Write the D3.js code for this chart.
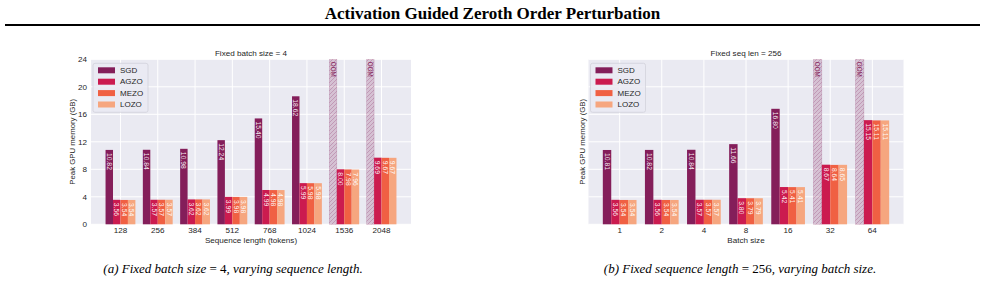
<!DOCTYPE html>
<html>
<head>
<meta charset="utf-8">
<script src="https://cdn.jsdelivr.net/npm/d3@7"></script>
<style>
  body { margin: 0; background: #fff; }
  svg { display: block; }
</style>
</head>
<body>
<div id="chart"></div>
<script>
// methods and their colours
const methods = ["SGD", "AGZO", "MEZO", "LOZO"];
const methodColors = ["#841e5a", "#cb1b4f", "#f06043", "#f6a67f"];

// panel (a): fixed batch size = 4, varying sequence length (null = OOM)
const seqLabels = ["128", "256", "384", "512", "768", "1024", "1536", "2048"];
const seqSGD  = [10.82, 10.84, 10.98, 12.24, 15.40, 18.62, null, null];
const seqAGZO = [3.56, 3.57, 3.62, 3.99, 4.99, 5.99, 8.00, 9.69];
const seqMEZO = [3.54, 3.57, 3.62, 3.98, 4.98, 5.98, 7.98, 9.67];
const seqLOZO = [3.54, 3.57, 3.62, 3.98, 4.98, 5.98, 7.96, 9.67];

// panel (b): fixed seq len = 256, varying batch size (null = OOM)
const batchLabels = ["1", "2", "4", "8", "16", "32", "64"];
const batchSGD  = [10.81, 10.82, 10.84, 11.66, 16.80, null, null];
const batchAGZO = [3.56, 3.56, 3.57, 3.80, 5.42, 8.67, 15.15];
const batchMEZO = [3.54, 3.54, 3.57, 3.79, 5.41, 8.64, 15.11];
const batchLOZO = [3.54, 3.54, 3.57, 3.79, 5.41, 8.65, 15.11];

const yTicks = [0, 4, 8, 12, 16, 20, 24];

const W = 985, H = 285;
const svg = d3.select("#chart").append("svg")
    .attr("width", W)
    .attr("height", H)
    .style("font-family", "'Liberation Sans', Arial, sans-serif");

// hatch pattern for OOM bars
const defs = svg.append("defs");
defs.append("pattern")
    .attr("id", "oomHatch")
    .attr("patternUnits", "userSpaceOnUse")
    .attr("width", 4)
    .attr("height", 4)
    .append("path")
    .attr("d", "M-1,1 l2,-2 M0,4 l4,-4 M3,5 l2,-2")
    .attr("stroke", methodColors[0])
    .attr("stroke-opacity", 0.35)
    .attr("stroke-width", 0.7);

// header
svg.append("text")
    .attr("x", W / 2)
    .attr("y", 19)
    .attr("text-anchor", "middle")
    .style("font-family", "'Liberation Serif', 'Times New Roman', serif")
    .style("font-weight", "bold")
    .style("font-size", "17px")
    .text("Activation Guided Zeroth Order Perturbation");

svg.append("line")
    .attr("x1", 5).attr("x2", 980)
    .attr("y1", 25).attr("y2", 25)
    .attr("stroke", "#000")
    .attr("stroke-width", 2);

function drawPanel(opts) {
    const { left, right, top, bottom, labels, series, title, xTitle, showYTicks } = opts;
    const n = labels.length;

    const x = d3.scaleLinear()
        .domain([-0.4 - 0.05 * (n - 0.2), n - 1 + 0.4 + 0.05 * (n - 0.2)])
        .range([left, right]);
    const y = d3.scaleLinear().domain([0, 24]).range([bottom, top]);

    const g = svg.append("g");

    g.append("rect")
        .attr("x", left).attr("y", top)
        .attr("width", right - left).attr("height", bottom - top)
        .attr("fill", "#eaeaf2");

    // grid
    g.append("g").selectAll("line")
        .data(yTicks)
        .join("line")
        .attr("x1", left).attr("x2", right)
        .attr("y1", d => y(d)).attr("y2", d => y(d))
        .attr("stroke", "#fff").attr("stroke-width", 1);
    g.append("g").selectAll("line")
        .data(d3.range(n))
        .join("line")
        .attr("x1", d => x(d)).attr("x2", d => x(d))
        .attr("y1", top).attr("y2", bottom)
        .attr("stroke", "#fff").attr("stroke-width", 1);

    const bw = x(0.2) - x(0);
    const offsets = [-0.3, -0.1, 0.1, 0.3];

    series.forEach((vals, si) => {
        const bars = vals.map((v, i) => ({ v, i }));

        // OOM placeholders
        if (si === 0) {
            const oom = bars.filter(d => d.v == null);
            g.append("g").selectAll("rect")
                .data(oom)
                .join("rect")
                .attr("x", d => x(d.i + offsets[si]) - bw / 2)
                .attr("y", y(24))
                .attr("width", bw)
                .attr("height", y(0) - y(24))
                .attr("fill", methodColors[0])
                .attr("fill-opacity", 0.2);
            g.append("g").selectAll("rect")
                .data(oom)
                .join("rect")
                .attr("x", d => x(d.i + offsets[si]) - bw / 2)
                .attr("y", y(24))
                .attr("width", bw)
                .attr("height", y(0) - y(24))
                .attr("fill", "url(#oomHatch)")
                .attr("stroke", methodColors[0])
                .attr("stroke-opacity", 0.25)
                .attr("stroke-width", 0.6);
            g.append("g").selectAll("text")
                .data(oom)
                .join("text")
                .attr("transform", d => `translate(${x(d.i + offsets[si])},${y(24) + 2.5}) rotate(90)`)
                .attr("dy", "0.35em")
                .attr("fill", methodColors[0])
                .style("font-size", "6.3px")
                .text("OOM");
        }

        const real = bars.filter(d => d.v != null);
        g.append("g").selectAll("rect")
            .data(real)
            .join("rect")
            .attr("x", d => x(d.i + offsets[si]) - bw / 2)
            .attr("y", d => y(d.v))
            .attr("width", bw)
            .attr("height", d => y(0) - y(d.v))
            .attr("fill", methodColors[si]);

        g.append("g").selectAll("text")
            .data(real)
            .join("text")
            .attr("transform", d => `translate(${x(d.i + offsets[si])},${y(d.v) + 3}) rotate(90)`)
            .attr("dy", "0.35em")
            .attr("fill", "#fff")
            .attr("fill-opacity", 0.92)
            .style("font-size", "6.8px")
            .text(d => d.v.toFixed(2));
    });

    // axes labels
    g.append("g").selectAll("text")
        .data(labels)
        .join("text")
        .attr("x", (d, i) => x(i))
        .attr("y", bottom + 9)
        .attr("text-anchor", "middle")
        .attr("fill", "#262626")
        .style("font-size", "8.1px")
        .text(d => d);

    if (showYTicks) {
        g.append("g").selectAll("text")
            .data(yTicks)
            .join("text")
            .attr("x", left - 4)
            .attr("y", d => y(d))
            .attr("dy", "0.35em")
            .attr("text-anchor", "end")
            .attr("fill", "#262626")
            .style("font-size", "8.1px")
            .text(d => d);
    }

    g.append("text")
        .attr("x", (left + right) / 2)
        .attr("y", bottom + 18.8)
        .attr("text-anchor", "middle")
        .attr("fill", "#262626")
        .style("font-size", "8.1px")
        .text(xTitle);

    g.append("text")
        .attr("transform", `translate(${opts.yLabelX},${(top + bottom) / 2}) rotate(-90)`)
        .attr("dy", "0.35em")
        .attr("text-anchor", "middle")
        .attr("fill", "#262626")
        .style("font-size", "7.8px")
        .text("Peak GPU memory (GB)");

    g.append("text")
        .attr("x", (left + right) / 2)
        .attr("y", top - 6)
        .attr("dy", "0.35em")
        .attr("text-anchor", "middle")
        .attr("fill", "#262626")
        .style("font-size", "8.1px")
        .text(title);

    // legend
    const lg = g.append("g").attr("transform", `translate(${left + 2},${top + 4})`);
    lg.append("rect")
        .attr("width", 55).attr("height", 49)
        .attr("rx", 2)
        .attr("fill", "#eaeaf2").attr("fill-opacity", 0.8)
        .attr("stroke", "#d2d2da").attr("stroke-width", 0.8);
    methods.forEach((m, i) => {
        lg.append("rect")
            .attr("x", 5).attr("y", 4 + i * 11.4)
            .attr("width", 17).attr("height", 6)
            .attr("fill", methodColors[i]);
        lg.append("text")
            .attr("x", 27).attr("y", 7 + i * 11.4)
            .attr("dy", "0.35em")
            .attr("fill", "#262626")
            .style("font-size", "8px")
            .text(m);
    });
}

drawPanel({
    left: 91, right: 411, top: 59.3, bottom: 224.3,
    labels: seqLabels,
    series: [seqSGD, seqAGZO, seqMEZO, seqLOZO],
    title: "Fixed batch size = 4",
    xTitle: "Sequence length (tokens)",
    showYTicks: true,
    yLabelX: 72
});

drawPanel({
    left: 588.5, right: 903.5, top: 59.3, bottom: 224.3,
    labels: batchLabels,
    series: [batchSGD, batchAGZO, batchMEZO, batchLOZO],
    title: "Fixed seq len = 256",
    xTitle: "Batch size",
    showYTicks: false,
    yLabelX: 582
});

// captions
function caption(cx, parts) {
    const t = svg.append("text")
        .attr("x", cx)
        .attr("y", 273)
        .attr("text-anchor", "middle")
        .style("font-family", "'Liberation Serif', 'Times New Roman', serif")
        .style("font-size", "13px");
    parts.forEach(p => {
        t.append("tspan")
            .style("font-style", p.italic ? "italic" : "normal")
            .text(p.t);
    });
}

caption(233, [
    { t: "(a) Fixed batch size ", italic: true },
    { t: "= 4", italic: false },
    { t: ", varying sequence length.", italic: true }
]);
caption(740, [
    { t: "(b) Fixed sequence length ", italic: true },
    { t: "= 256", italic: false },
    { t: ", varying batch size.", italic: true }
]);
</script>
</body>
</html>
